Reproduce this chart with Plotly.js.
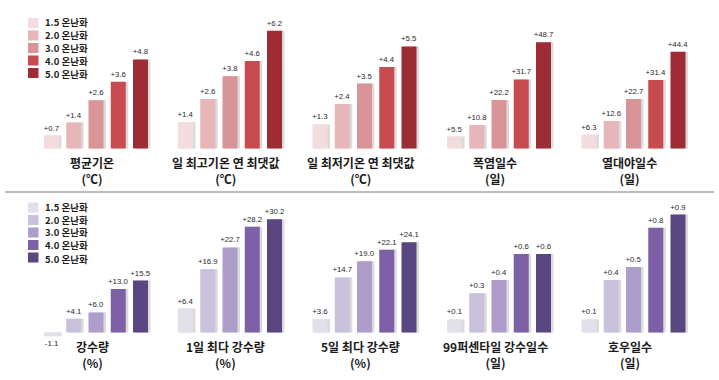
<!DOCTYPE html>
<html>
<head>
<meta charset="utf-8">
<script src="https://cdn.plot.ly/plotly-3.0.1.min.js"></script>
<style>html,body{margin:0;padding:0;background:#fff;}#chart{width:719px;height:380px;}</style>
</head>
<body>
<div id="chart"></div>
<script>
// ---------------- data ----------------
const levelCats = ['1.5', '2.0', '3.0', '4.0', '5.0'];
const legendLabels = ['1.5 온난화', '2.0 온난화', '3.0 온난화', '4.0 온난화', '5.0 온난화'];

const topGroupNames = ['평균기온', '일 최고기온 연 최댓값', '일 최저기온 연 최댓값', '폭염일수', '열대야일수'];
const topGroupUnits = ['(℃)', '(℃)', '(℃)', '(일)', '(일)'];
const meanTemp = [0.7, 1.4, 2.6, 3.6, 4.8];
const maxTempAnnual = [1.4, 2.6, 3.8, 4.6, 6.2];
const minTempAnnual = [1.3, 2.4, 3.5, 4.4, 5.5];
const heatwaveDays = [5.5, 10.8, 22.2, 31.7, 48.7];
const tropicalNights = [6.3, 12.6, 22.7, 31.4, 44.4];

const botGroupNames = ['강수량', '1일 최다 강수량', '5일 최다 강수량', '99퍼센타일 강수일수', '호우일수'];
const botGroupUnits = ['(%)', '(%)', '(%)', '(일)', '(일)'];
const precipitation = [-1.1, 4.1, 6.0, 13.0, 15.5];
const maxPrecip1Day = [6.4, 16.9, 22.7, 28.2, 30.2];
const maxPrecip5Day = [3.6, 14.7, 19.0, 22.1, 24.1];
const p99PrecipDays = [0.1, 0.3, 0.4, 0.6, 0.6];
const heavyRainDays = [0.1, 0.4, 0.5, 0.8, 0.9];

// ---------------- styling ----------------
const redColors = ['#f2dcdd', '#e6b6b9', '#d99497', '#c84b50', '#9e2c34'];
const purpleColors = ['#e3e0ec', '#cac1dd', '#ae9dca', '#7e60a6', '#5a4680'];

const W = 719, H = 380;
const pitch = 22.25, barPx = 15;
const centers = [96, 230, 364.5, 499, 633.5];

const rows = [
  {values: [meanTemp, maxTempAnnual, minTempAnnual, heatwaveDays, tropicalNights],
   names: topGroupNames, units: topGroupUnits, colors: redColors,
   base: 148.5, top: 12, bottom: 150, scales: [18.55, 19.0, 18.55, 2.18, 2.18],
   labelY: 171, legendMid: 48},
  {values: [precipitation, maxPrecip1Day, maxPrecip5Day, p99PrecipDays, heavyRainDays],
   names: botGroupNames, units: botGroupUnits, colors: purpleColors,
   base: 332.5, top: 196, bottom: 346, scales: [3.35, 3.75, 3.75, 131, 131],
   labelY: 354.5, legendMid: 232.5}
];

const fmt = v => (v > 0 ? '+' : '') + v.toFixed(1);
const traces = [];
const layout = {
  width: W, height: H,
  margin: {l: 0, r: 0, t: 0, b: 0},
  paper_bgcolor: '#ffffff', plot_bgcolor: 'rgba(0,0,0,0)',
  showlegend: false, barmode: 'overlay',
  annotations: [], shapes: []
};
const wCat = barPx / pitch;
const shadowShift = 2.5 / pitch;
const korFont = '"Noto Sans CJK KR", "Noto Sans", sans-serif';

let ax = 0;
rows.forEach((row, r) => {
  row.values.forEach((vals, g) => {
    ax++;
    const xa = ax === 1 ? 'x' : 'x' + ax;
    const ya = ax === 1 ? 'y' : 'y' + ax;
    const s = row.scales[g];
    const cx = centers[g];
    layout['xaxis' + (ax === 1 ? '' : ax)] = {
      domain: [(cx - 2.5 * pitch) / W, (cx + 2.5 * pitch) / W],
      type: 'category', visible: false, fixedrange: true,
      range: [-0.5, 4.5], anchor: ya
    };
    layout['yaxis' + (ax === 1 ? '' : ax)] = {
      domain: [1 - row.bottom / H, 1 - row.top / H],
      range: [-(row.bottom - row.base) / s, (row.base - row.top) / s],
      visible: false, showgrid: false, zeroline: false, fixedrange: true, anchor: xa
    };
    // shadow
    traces.push({
      type: 'bar', x: levelCats, y: vals, xaxis: xa, yaxis: ya,
      width: wCat, offset: -wCat / 2 + shadowShift,
      marker: {color: 'rgba(90,90,90,0.22)', line: {width: 0}},
      hoverinfo: 'skip', cliponaxis: false
    });
    // bars
    traces.push({
      type: 'bar', x: levelCats, y: vals, xaxis: xa, yaxis: ya,
      width: wCat, offset: -wCat / 2,
      marker: {color: row.colors, line: {width: 0}},
      text: vals.map(fmt), textposition: 'outside', constraintext: 'none',
      textfont: {family: 'Liberation Sans, Arial, sans-serif', size: 7.8, color: '#2a2a2a'},
      cliponaxis: false, hoverinfo: 'x+y'
    });
    // group label (name + unit)
    layout.annotations.push({
      xref: 'paper', yref: 'paper', x: (cx - 4) / W, y: 1 - row.labelY / H,
      xanchor: 'center', yanchor: 'middle', showarrow: false, align: 'center',
      text: '<b>' + row.names[g] + '</b><br><b>' + row.units[g] + '</b>',
      font: {family: korFont, size: 12, color: '#1a1a1a'}
    });
  });
  // legend swatches + labels
  legendLabels.forEach((lab, k) => {
    const yc = row.legendMid + 12.5 * (k - 2);
    layout.shapes.push({
      type: 'rect', xref: 'paper', yref: 'paper',
      x0: 28 / W, x1: 38.5 / W, y0: 1 - (yc - 5) / H, y1: 1 - (yc + 5) / H,
      fillcolor: row.colors[k], line: {width: 0}
    });
    const yt = row.legendMid + 13 * (k - 2);
    layout.annotations.push({
      xref: 'paper', yref: 'paper', x: 43 / W, y: 1 - yt / H,
      xanchor: 'left', yanchor: 'middle', showarrow: false, align: 'left',
      text: '<b>' + lab + '</b>',
      font: {family: korFont, size: 9.5, color: '#222222'}
    });
  });
});

// separator line
layout.shapes.push({
  type: 'line', xref: 'paper', yref: 'paper',
  x0: 5 / W, x1: 714 / W, y0: 1 - 192 / H, y1: 1 - 192 / H,
  line: {color: '#a6a6a6', width: 1.5}
});

Plotly.newPlot('chart', traces, layout, {displayModeBar: false, staticPlot: true});
</script>
</body>
</html>
